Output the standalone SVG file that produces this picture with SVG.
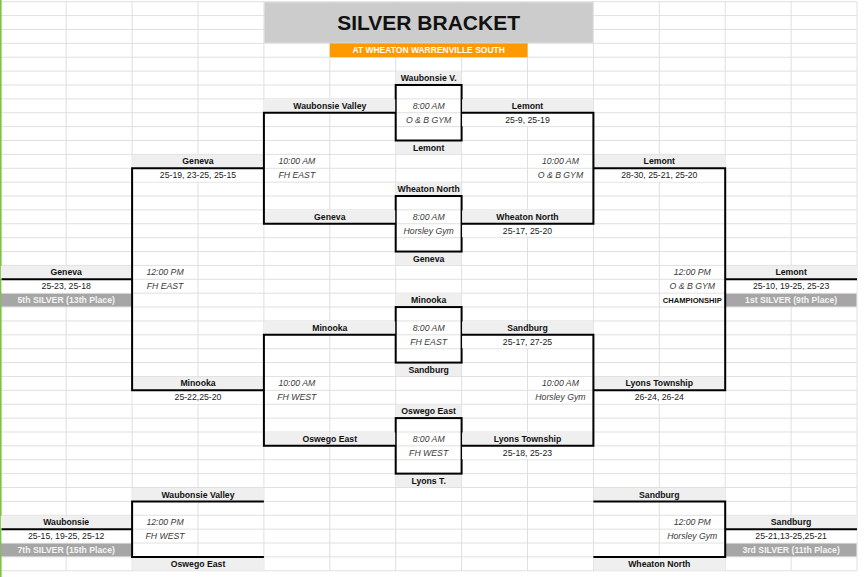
<svg xmlns="http://www.w3.org/2000/svg" width="864" height="577" viewBox="0 0 864 577">
<style>
.t{font-family:"Liberation Sans",Arial,Helvetica,sans-serif;font-size:8.7px;text-anchor:middle;fill:#1a1a1a}
.b{font-weight:bold;fill:#111}
.i{font-style:italic;fill:#3a3a3a}
.lbl{fill:#efefef}
.wh{fill:#ffffff}
.plc{fill:#a6a6a6}
.pt{font-weight:bold;fill:#f4f4f4}
.grid{stroke:#e0e0e0;stroke-width:1;fill:none}
.ln{stroke:#000;stroke-width:2;fill:none}
.box{stroke:#000;stroke-width:2;fill:none}
</style>
<rect x="0" y="0" width="864" height="577" fill="#ffffff"/>
<g id="grid">
<path class="grid" d="M0 1.7H857M0 15.58H857M0 29.46H857M0 43.34H857M0 57.22H857M0 71.1H857M0 84.98H857M0 98.86H857M0 112.74H857M0 126.62H857M0 140.5H857M0 154.38H857M0 168.26H857M0 182.14H857M0 196.02H857M0 209.9H857M0 223.78H857M0 237.66H857M0 251.54H857M0 265.42H857M0 279.3H857M0 293.18H857M0 307.06H857M0 320.94H857M0 334.82H857M0 348.7H857M0 362.58H857M0 376.46H857M0 390.34H857M0 404.22H857M0 418.1H857M0 431.98H857M0 445.86H857M0 459.74H857M0 473.62H857M0 487.5H857M0 501.38H857M0 515.26H857M0 529.14H857M0 543.02H857M0 556.9H857M0 570.78H857"/>
<path class="grid" d="M66.2 1.7V570.78M132.1 1.7V570.78M198 1.7V570.78M263.9 1.7V570.78M329.8 1.7V570.78M395.7 1.7V570.78M461.6 1.7V570.78M527.5 1.7V570.78M593.4 1.7V570.78M659.3 1.7V570.78M725.2 1.7V570.78M791.1 1.7V570.78M857 1.7V570.78"/>
<rect x="0" y="0" width="1.6" height="577" fill="#7dc242"/>
</g>

<g id="title">
<rect x="264.4" y="2.2" width="328.5" height="40.6" fill="#cccccc"/>
<text class="t b" x="428.65" y="29.5" style="font-size:21px">SILVER BRACKET</text>
</g>
<g id="subtitle">
<rect x="329.8" y="43.34" width="197.7" height="13.88" fill="#ff9900"/>
<text class="t b" x="428.65" y="53.3" style="font-size:8.5px;fill:#ffffff">AT WHEATON WARRENVILLE SOUTH</text>
</g>

<!-- Round 1 match boxes -->
<g id="match-1">
<rect class="lbl" x="396.2" y="71.6" width="64.9" height="12.88"/>
<text class="t b" x="428.65" y="81.1">Waubonsie V.</text>
<text class="t i" x="428.65" y="108.86">8:00 AM</text>
<text class="t i" x="428.65" y="122.74">O &amp; B GYM</text>
<rect class="lbl" x="396.2" y="141" width="64.9" height="12.88"/>
<text class="t b" x="428.65" y="150.5">Lemont</text>
<rect class="box" x="395.7" y="84.98" width="65.9" height="55.52"/>
</g>
<g id="match-2">
<rect class="lbl" x="396.2" y="182.64" width="64.9" height="12.88"/>
<text class="t b" x="428.65" y="192.14">Wheaton North</text>
<text class="t i" x="428.65" y="219.9">8:00 AM</text>
<text class="t i" x="428.65" y="233.78">Horsley Gym</text>
<rect class="lbl" x="396.2" y="252.04" width="64.9" height="12.88"/>
<text class="t b" x="428.65" y="261.54">Geneva</text>
<rect class="box" x="395.7" y="196.02" width="65.9" height="55.52"/>
</g>
<g id="match-3">
<rect class="lbl" x="396.2" y="293.68" width="64.9" height="12.88"/>
<text class="t b" x="428.65" y="303.18">Minooka</text>
<text class="t i" x="428.65" y="330.94">8:00 AM</text>
<text class="t i" x="428.65" y="344.82">FH EAST</text>
<rect class="lbl" x="396.2" y="363.08" width="64.9" height="12.88"/>
<text class="t b" x="428.65" y="372.58">Sandburg</text>
<rect class="box" x="395.7" y="307.06" width="65.9" height="55.52"/>
</g>
<g id="match-4">
<rect class="lbl" x="396.2" y="404.72" width="64.9" height="12.88"/>
<text class="t b" x="428.65" y="414.22">Oswego East</text>
<text class="t i" x="428.65" y="441.98">8:00 AM</text>
<text class="t i" x="428.65" y="455.86">FH WEST</text>
<rect class="lbl" x="396.2" y="474.12" width="64.9" height="12.88"/>
<text class="t b" x="428.65" y="483.62">Lyons T.</text>
<rect class="box" x="395.7" y="418.1" width="65.9" height="55.52"/>
</g>

<!-- Round 1 side slots -->
<g id="slot-waubonsie-valley">
<rect class="lbl" x="264.4" y="99.36" width="130.8" height="12.88"/>
<text class="t b" x="329.8" y="108.86">Waubonsie Valley</text>
</g>
<g id="slot-geneva-r1">
<rect class="lbl" x="264.4" y="210.4" width="130.8" height="12.88"/>
<text class="t b" x="329.8" y="219.9">Geneva</text>
</g>
<g id="slot-minooka-r1">
<rect class="lbl" x="264.4" y="321.44" width="130.8" height="12.88"/>
<text class="t b" x="329.8" y="330.94">Minooka</text>
</g>
<g id="slot-oswego-east-r1">
<rect class="lbl" x="264.4" y="432.48" width="130.8" height="12.88"/>
<text class="t b" x="329.8" y="441.98">Oswego East</text>
</g>
<g id="win-lemont-r1">
<rect class="lbl" x="462.1" y="99.36" width="130.8" height="12.88"/>
<text class="t b" x="527.5" y="108.86">Lemont</text>
<rect class="wh" x="462.1" y="113.24" width="130.8" height="12.88"/>
<text class="t" x="527.5" y="122.74">25-9, 25-19</text>
</g>
<g id="win-wheaton-north-r1">
<rect class="lbl" x="462.1" y="210.4" width="130.8" height="12.88"/>
<text class="t b" x="527.5" y="219.9">Wheaton North</text>
<rect class="wh" x="462.1" y="224.28" width="130.8" height="12.88"/>
<text class="t" x="527.5" y="233.78">25-17, 25-20</text>
</g>
<g id="win-sandburg-r1">
<rect class="lbl" x="462.1" y="321.44" width="130.8" height="12.88"/>
<text class="t b" x="527.5" y="330.94">Sandburg</text>
<rect class="wh" x="462.1" y="335.32" width="130.8" height="12.88"/>
<text class="t" x="527.5" y="344.82">25-17, 27-25</text>
</g>
<g id="win-lyons-township-r1">
<rect class="lbl" x="462.1" y="432.48" width="130.8" height="12.88"/>
<text class="t b" x="527.5" y="441.98">Lyons Township</text>
<rect class="wh" x="462.1" y="446.36" width="130.8" height="12.88"/>
<text class="t" x="527.5" y="455.86">25-18, 25-23</text>
</g>

<!-- Round 2 -->
<g id="semi-left-top">
<rect class="lbl" x="132.6" y="154.88" width="130.8" height="12.88"/>
<text class="t b" x="198" y="164.38">Geneva</text>
<rect class="wh" x="132.6" y="168.76" width="130.8" height="12.88"/>
<text class="t" x="198" y="178.26">25-19, 23-25, 25-15</text>
<text class="t i" x="296.85" y="164.38">10:00 AM</text>
<text class="t i" x="296.85" y="178.26">FH EAST</text>
</g>
<g id="semi-left-bottom">
<rect class="lbl" x="132.6" y="376.96" width="130.8" height="12.88"/>
<text class="t b" x="198" y="386.46">Minooka</text>
<rect class="wh" x="132.6" y="390.84" width="130.8" height="12.88"/>
<text class="t" x="198" y="400.34">25-22,25-20</text>
<text class="t i" x="296.85" y="386.46">10:00 AM</text>
<text class="t i" x="296.85" y="400.34">FH WEST</text>
</g>
<g id="semi-right-top">
<rect class="lbl" x="593.9" y="154.88" width="130.8" height="12.88"/>
<text class="t b" x="659.3" y="164.38">Lemont</text>
<rect class="wh" x="593.9" y="168.76" width="130.8" height="12.88"/>
<text class="t" x="659.3" y="178.26">28-30, 25-21, 25-20</text>
<text class="t i" x="560.45" y="164.38">10:00 AM</text>
<text class="t i" x="560.45" y="178.26">O &amp; B GYM</text>
</g>
<g id="semi-right-bottom">
<rect class="lbl" x="593.9" y="376.96" width="130.8" height="12.88"/>
<text class="t b" x="659.3" y="386.46">Lyons Township</text>
<rect class="wh" x="593.9" y="390.84" width="130.8" height="12.88"/>
<text class="t" x="659.3" y="400.34">26-24, 26-24</text>
<text class="t i" x="560.45" y="386.46">10:00 AM</text>
<text class="t i" x="560.45" y="400.34">Horsley Gym</text>
</g>

<!-- Finals -->
<g id="fifth-place">
<rect class="lbl" x="0.8" y="265.92" width="130.8" height="12.88"/>
<text class="t b" x="66.2" y="275.42">Geneva</text>
<rect class="wh" x="1.6" y="279.8" width="130" height="12.88"/>
<text class="t" x="66.2" y="289.3">25-23, 25-18</text>
<rect class="plc" x="0.8" y="293.68" width="130.8" height="12.88"/>
<text class="t pt" x="66.2" y="303.18">5th SILVER (13th Place)</text>
<text class="t i" x="165.05" y="275.42">12:00 PM</text>
<text class="t i" x="165.05" y="289.3">FH EAST</text>
</g>
<g id="championship">
<rect class="lbl" x="725.7" y="265.92" width="130.8" height="12.88"/>
<text class="t b" x="791.1" y="275.42">Lemont</text>
<rect class="wh" x="725.7" y="279.8" width="130.8" height="12.88"/>
<text class="t" x="791.1" y="289.3">25-10, 19-25, 25-23</text>
<rect class="plc" x="725.7" y="293.68" width="130.8" height="12.88"/>
<text class="t pt" x="791.1" y="303.18">1st SILVER (9th Place)</text>
<text class="t i" x="692.25" y="275.42">12:00 PM</text>
<text class="t i" x="692.25" y="289.3">O &amp; B GYM</text>
<text class="t b" x="692.25" y="303.18" style="font-size:7.6px">CHAMPIONSHIP</text>
</g>
<g id="seventh-place">
<rect class="lbl" x="132.6" y="488" width="130.8" height="12.88"/>
<text class="t b" x="198" y="497.5">Waubonsie Valley</text>
<rect class="lbl" x="0.8" y="515.76" width="130.8" height="12.88"/>
<text class="t b" x="66.2" y="525.26">Waubonsie</text>
<rect class="wh" x="1.6" y="529.64" width="130" height="12.88"/>
<text class="t" x="66.2" y="539.14">25-15, 19-25, 25-12</text>
<rect class="plc" x="0.8" y="543.52" width="130.8" height="12.88"/>
<text class="t pt" x="66.2" y="553.02">7th SILVER (15th Place)</text>
<text class="t i" x="165.05" y="525.26">12:00 PM</text>
<text class="t i" x="165.05" y="539.14">FH WEST</text>
<rect class="lbl" x="132.6" y="557.4" width="130.8" height="12.88"/>
<text class="t b" x="198" y="566.9">Oswego East</text>
</g>
<g id="third-place">
<rect class="lbl" x="593.9" y="488" width="130.8" height="12.88"/>
<text class="t b" x="659.3" y="497.5">Sandburg</text>
<rect class="lbl" x="725.7" y="515.76" width="130.8" height="12.88"/>
<text class="t b" x="791.1" y="525.26">Sandburg</text>
<rect class="wh" x="725.7" y="529.64" width="130.8" height="12.88"/>
<text class="t" x="791.1" y="539.14">25-21,13-25,25-21</text>
<rect class="plc" x="725.7" y="543.52" width="130.8" height="12.88"/>
<text class="t pt" x="791.1" y="553.02">3rd SILVER (11th Place)</text>
<text class="t i" x="692.25" y="525.26">12:00 PM</text>
<text class="t i" x="692.25" y="539.14">Horsley Gym</text>
<rect class="lbl" x="593.9" y="557.4" width="130.8" height="12.88"/>
<text class="t b" x="659.3" y="566.9">Wheaton North</text>
</g>

<g id="connectors">
<path class="ln" d="M395.7 112.74H263.9V223.78H395.7"/>
<path class="ln" d="M461.6 112.74H593.4V223.78H461.6"/>
<path class="ln" d="M395.7 334.82H263.9V445.86H395.7"/>
<path class="ln" d="M461.6 334.82H593.4V445.86H461.6"/>
<path class="ln" d="M263.9 168.26H132.1V390.34H263.9"/>
<path class="ln" d="M593.4 168.26H725.2V390.34H593.4"/>
<path class="ln" d="M1.6 279.3H132.1"/>
<path class="ln" d="M725.2 279.3H857"/>
<path class="ln" d="M263.9 501.38H132.1V556.9H263.9"/>
<path class="ln" d="M1.6 529.14H132.1"/>
<path class="ln" d="M593.4 501.38H725.2V556.9H593.4"/>
<path class="ln" d="M725.2 529.14H857"/>
</g>
</svg>
